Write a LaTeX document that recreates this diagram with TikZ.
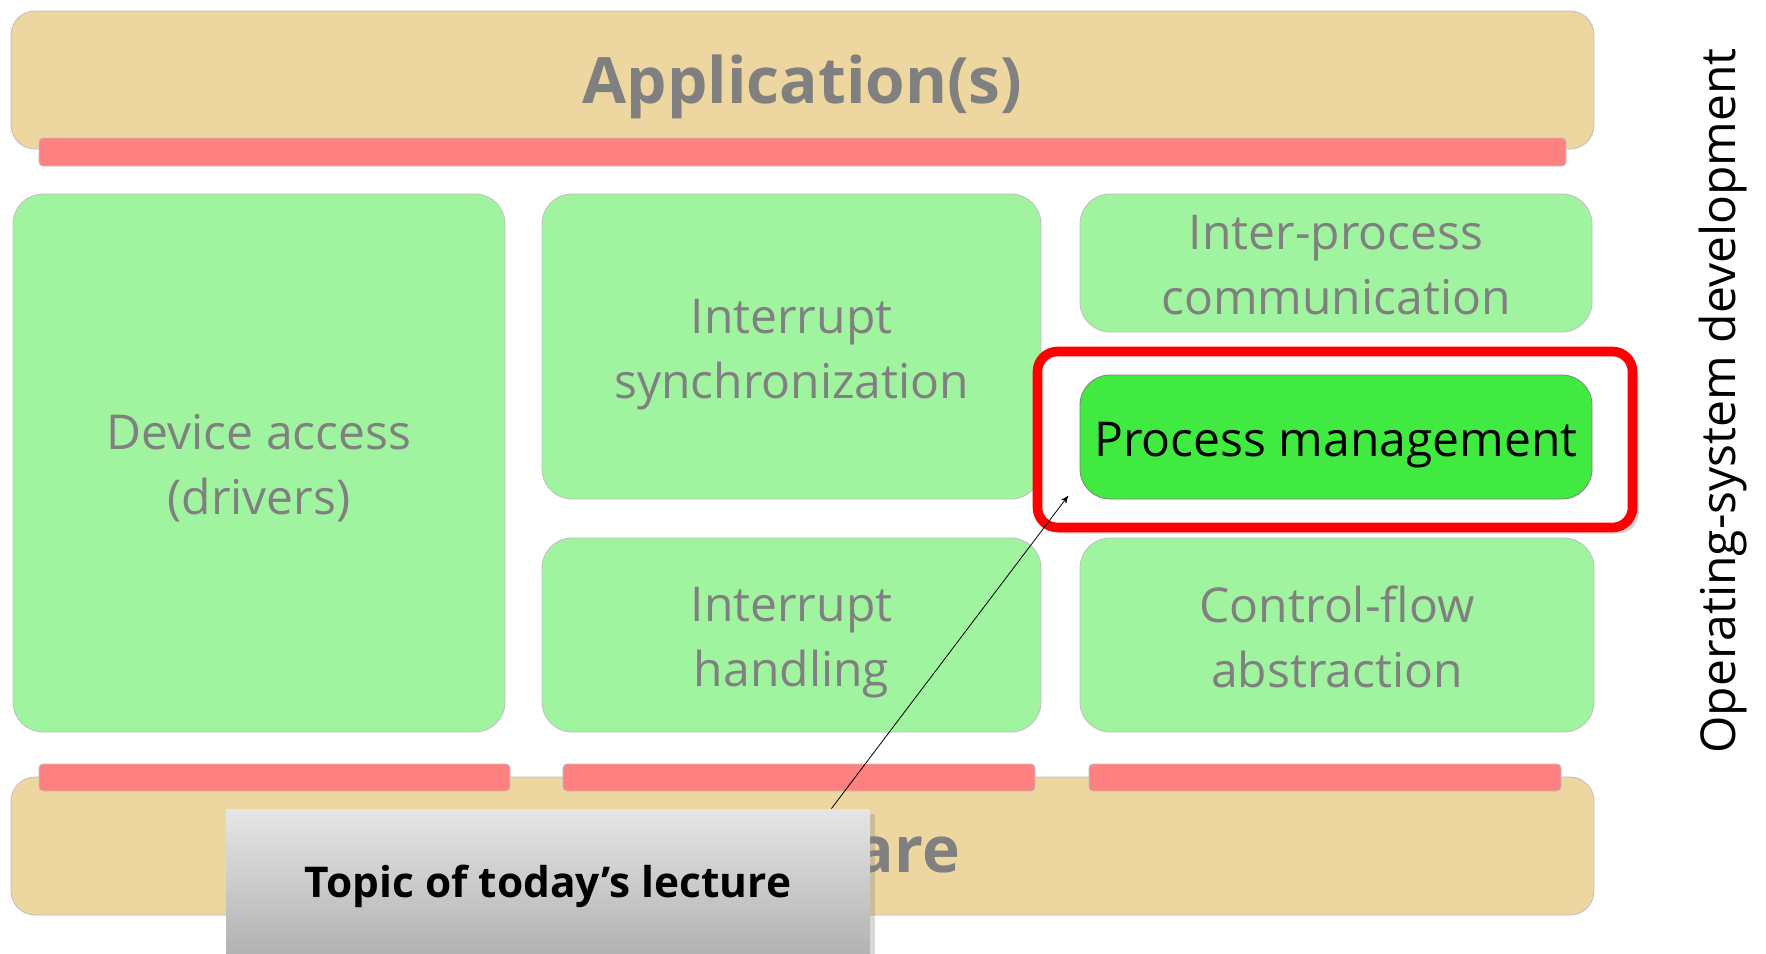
\documentclass[tikz,border=0pt]{standalone}
\usepackage{fontspec}
\setmainfont{Open Sans}
\usetikzlibrary{arrows,shadows,positioning}
\definecolor{tan}{HTML}{EDD6A0}
\definecolor{redbar}{HTML}{FF8080}
\definecolor{lightgreen}{HTML}{A0F4A0}
\definecolor{pmgreen}{HTML}{40EA40}
\newcommand{\lowerby}[2]{\raisebox{-#1}[\height][\depth]{\begin{tabular}{@{}c@{}}#2\end{tabular}}}
\begin{document}
\begin{tikzpicture}[x=0.5pt,y=-0.5pt,>=stealth',
  layer/.style={draw=black!25,fill=tan,rounded corners=12pt,inner sep=0pt,
    minimum width=791.5pt,minimum height=69pt,
    font=\fontsize{32}{40}\selectfont\bfseries,text=black!50},
  bar/.style={draw=black!25,fill=redbar,rounded corners=2pt,inner sep=0pt,minimum height=13.5pt},
  block/.style={draw=black!25,fill=lightgreen,rounded corners=15pt,inner sep=0pt,
    font=\fontsize{24}{32.5}\selectfont,text=black!50}]

\useasboundingbox (0,0) rectangle (1766,953);

\node[layer] (app) at (802.5,80) {\lowerby{3.8pt}{Application(s)}};
\node[bar,minimum width=763.5pt,minimum height=14pt] (appbar) at (802.5,152) {};

\node[block,minimum width=246pt,minimum height=269pt]   (dev)   at (259,463)    {\lowerby{2.8pt}{Device access\\(drivers)}};
\node[block,minimum width=249.5pt,minimum height=152.5pt] (isync) at (791.5,346.5) {\lowerby{3.4pt}{Interrupt\\synchronization}};
\node[block,minimum width=256pt,minimum height=69pt]    (ipc)   at (1336,263)   {\lowerby{2.8pt}{Inter-process\\communication}};
\node[block,minimum width=249.5pt,minimum height=97pt]  (ihand) at (791.5,635)  {\lowerby{2.9pt}{Interrupt\\handling}};
\node[block,minimum width=257pt,minimum height=97pt]    (cflow) at (1337,635)   {\lowerby{3.4pt}{Control-flow\\abstraction}};

\node[draw=red,fill=white,line width=4.8pt,rounded corners=10pt,minimum width=297.5pt,minimum height=88pt,
  drop shadow={shadow xshift=3pt,shadow yshift=-3pt,opacity=.35}] (focus) at (1335,439.5) {};
\node[block,draw=black!50,fill=pmgreen,text=black,minimum width=256pt,minimum height=62pt] (pm) at (1336,437) {\lowerby{3.4pt}{Process management}};

\node[layer] (hw) at (802.5,846) {\lowerby{5pt}{Hardware}};
\node[bar,minimum width=235.5pt] (hwbar1) at (274.5,777.5) {};
\node[bar,minimum width=236pt]   (hwbar2) at (799,777.5)   {};
\node[bar,minimum width=236pt]   (hwbar3) at (1325,777.5)  {};

\node[rotate=90,font=\fontsize{24}{28}\selectfont] (osdev) at (1723,401) {Operating-system development};

\node[top color=black!10,bottom color=black!30,inner sep=0pt,minimum width=322pt,minimum height=72pt,
  font=\fontsize{21.2}{26}\selectfont\bfseries,
  drop shadow={shadow xshift=2.5pt,shadow yshift=-2.5pt,opacity=.3}] (topic) at (548,881) {\lowerby{2.8pt}{Topic of today’s lecture}};

\coordinate (tip) at (1068,496);
\path[->] ([xshift=-19.5pt]topic.north east) edge (tip);

\end{tikzpicture}
\end{document}
